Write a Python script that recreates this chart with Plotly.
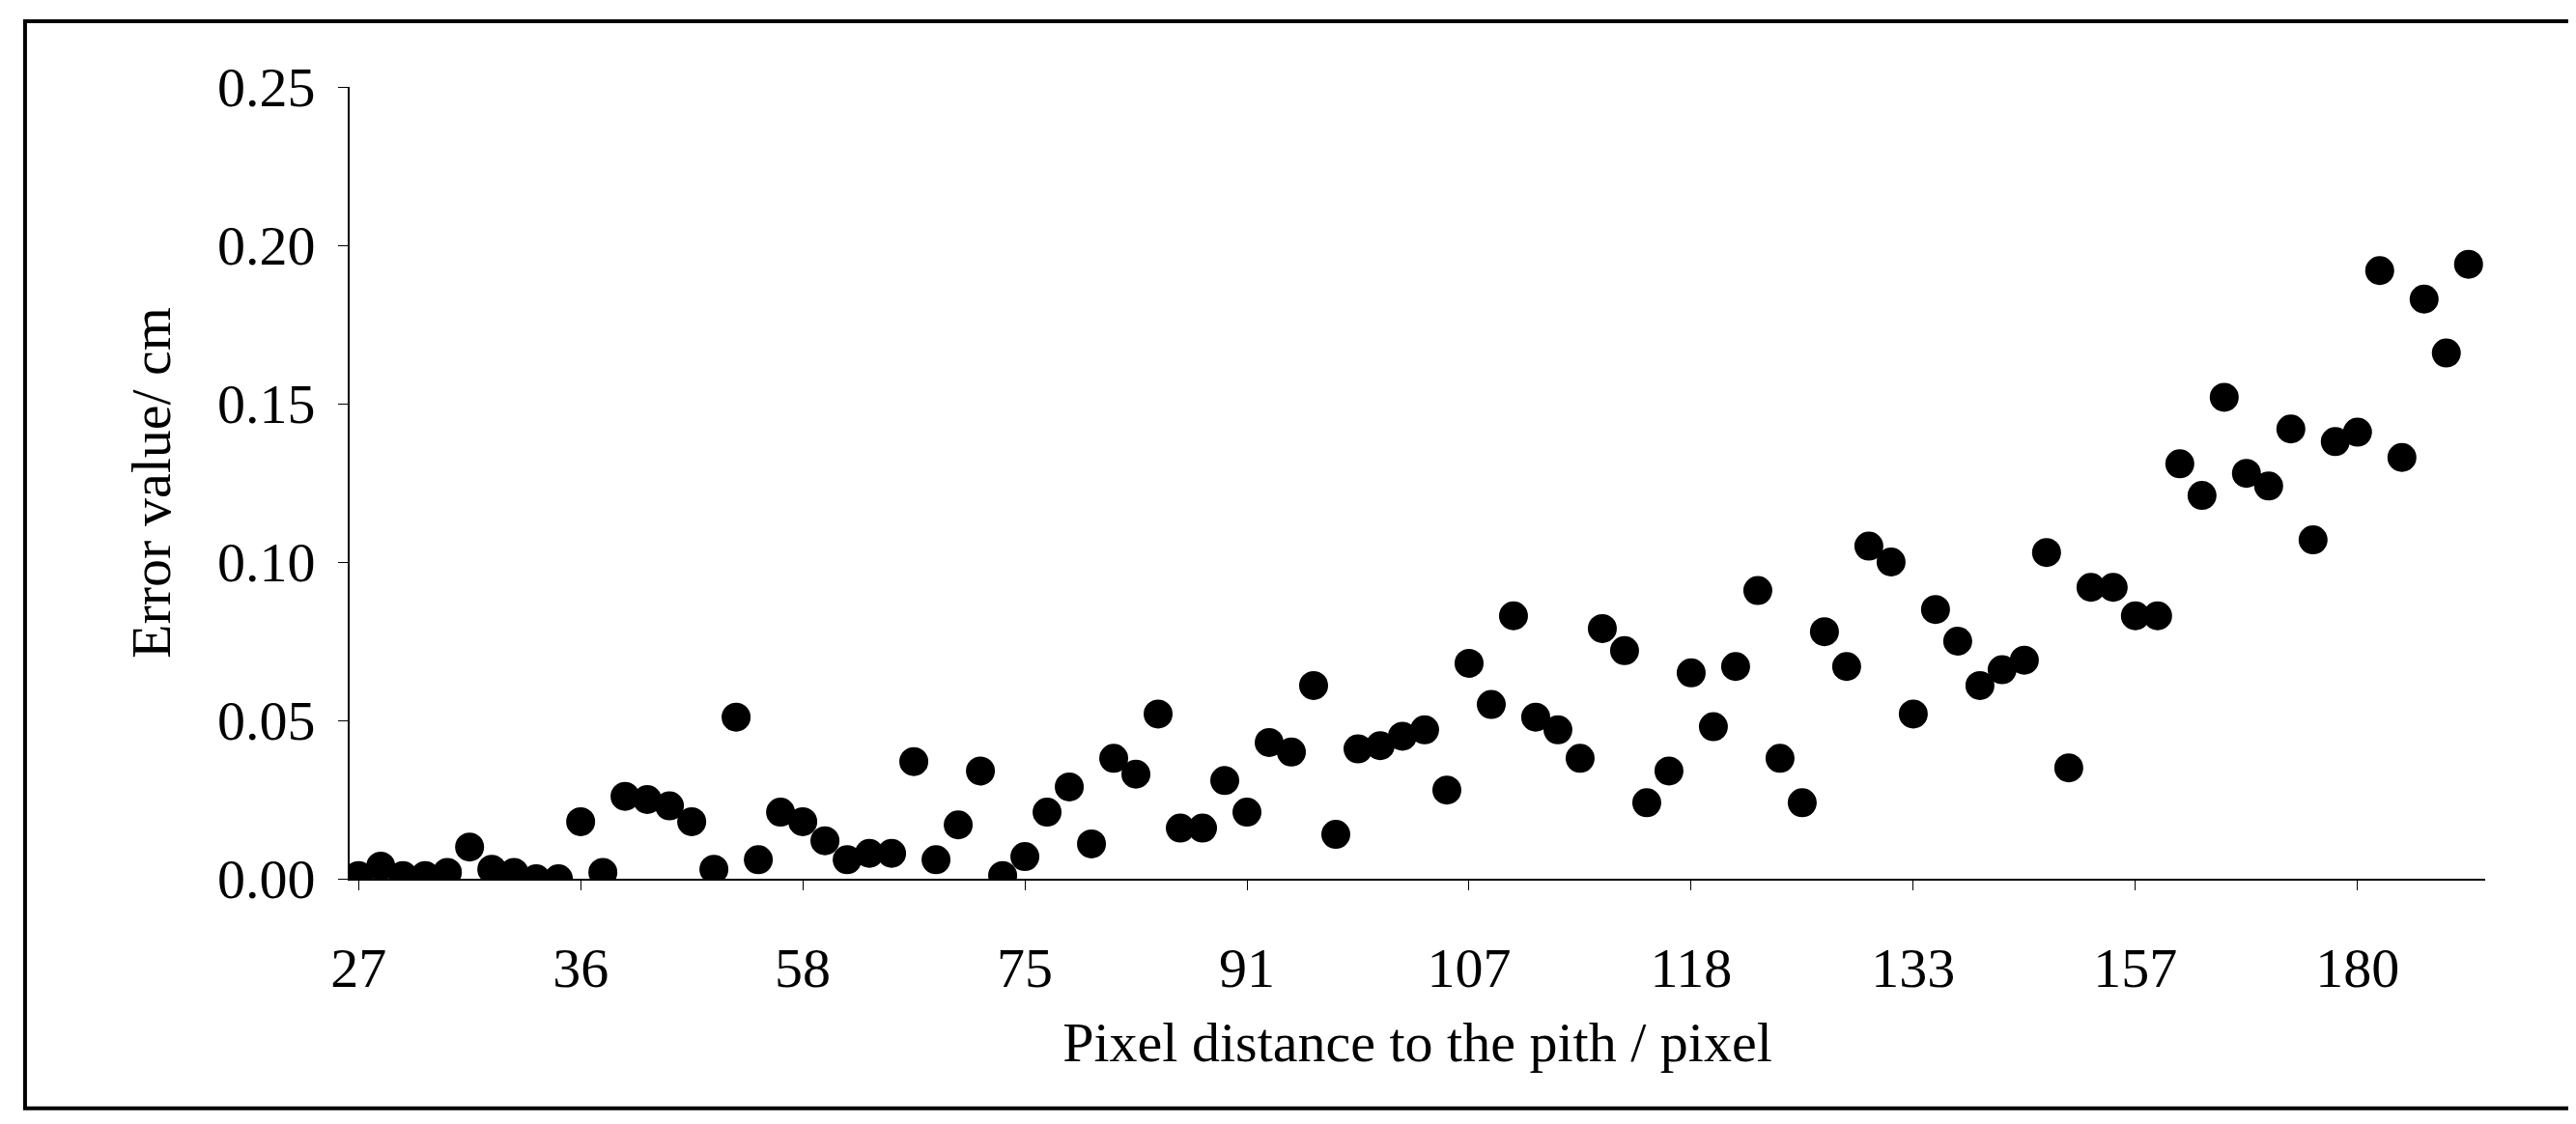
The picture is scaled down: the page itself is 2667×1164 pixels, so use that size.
import plotly.graph_objects as go

tick_labels = ["27", "36", "58", "75", "91", "107", "118", "133", "157", "180"]
error_values = [0.001, 0.004, 0.001, 0.001, 0.002, 0.010, 0.003, 0.002, 0.000, 0.000,
                0.018, 0.002, 0.026, 0.025, 0.023, 0.018, 0.003, 0.051, 0.006, 0.021,
                0.018, 0.012, 0.006, 0.008, 0.008, 0.037, 0.006, 0.017, 0.034, 0.001,
                0.007, 0.021, 0.029, 0.011, 0.038, 0.033, 0.052, 0.016, 0.016, 0.031,
                0.021, 0.043, 0.040, 0.061, 0.014, 0.041, 0.042, 0.045, 0.047, 0.028,
                0.068, 0.055, 0.083, 0.051, 0.047, 0.038, 0.079, 0.072, 0.024, 0.034,
                0.065, 0.048, 0.067, 0.091, 0.038, 0.024, 0.078, 0.067, 0.105, 0.100,
                0.052, 0.085, 0.075, 0.061, 0.066, 0.069, 0.103, 0.035, 0.092, 0.092,
                0.083, 0.083, 0.131, 0.121, 0.152, 0.128, 0.124, 0.142, 0.107, 0.138,
                0.141, 0.192, 0.133, 0.183, 0.166, 0.194]
idx = list(range(len(error_values)))
tick_pos = [i * 10 for i in range(len(tick_labels))]

font = "Liberation Serif"
fig = go.Figure(go.Scatter(x=idx, y=error_values, mode="markers",
                           marker=dict(color="black", size=30)))
fig.update_layout(
    width=2667, height=1164, plot_bgcolor="white", paper_bgcolor="white",
    margin=dict(l=354, r=102, t=82, b=262), showlegend=False,
    font=dict(family=font, size=58, color="black"),
    shapes=[dict(type="rect", xref="paper", yref="paper", x0=-0.152, x1=1.040,
                 y0=-0.290, y1=1.083, line=dict(color="black", width=4))],
)
fig.update_xaxes(range=[-0.4, 95.75], tickvals=tick_pos, ticktext=tick_labels,
                 showline=True, linecolor="black", linewidth=2, ticks="outside",
                 ticklen=10, tickcolor="black", showgrid=False, zeroline=False,
                 ticklabelstandoff=30,
                 title=dict(text="Pixel distance to the pith / pixel", font=dict(size=58), standoff=25))
fig.update_yaxes(range=[0, 0.25], dtick=0.05, tickformat=".2f",
                 showline=True, linecolor="black", linewidth=2, ticks="outside",
                 ticklen=10, tickcolor="black", showgrid=False, zeroline=False,
                 ticklabelstandoff=12,
                 title=dict(text="Error value/ cm", font=dict(size=58), standoff=30))
fig.write_html("out.html")
